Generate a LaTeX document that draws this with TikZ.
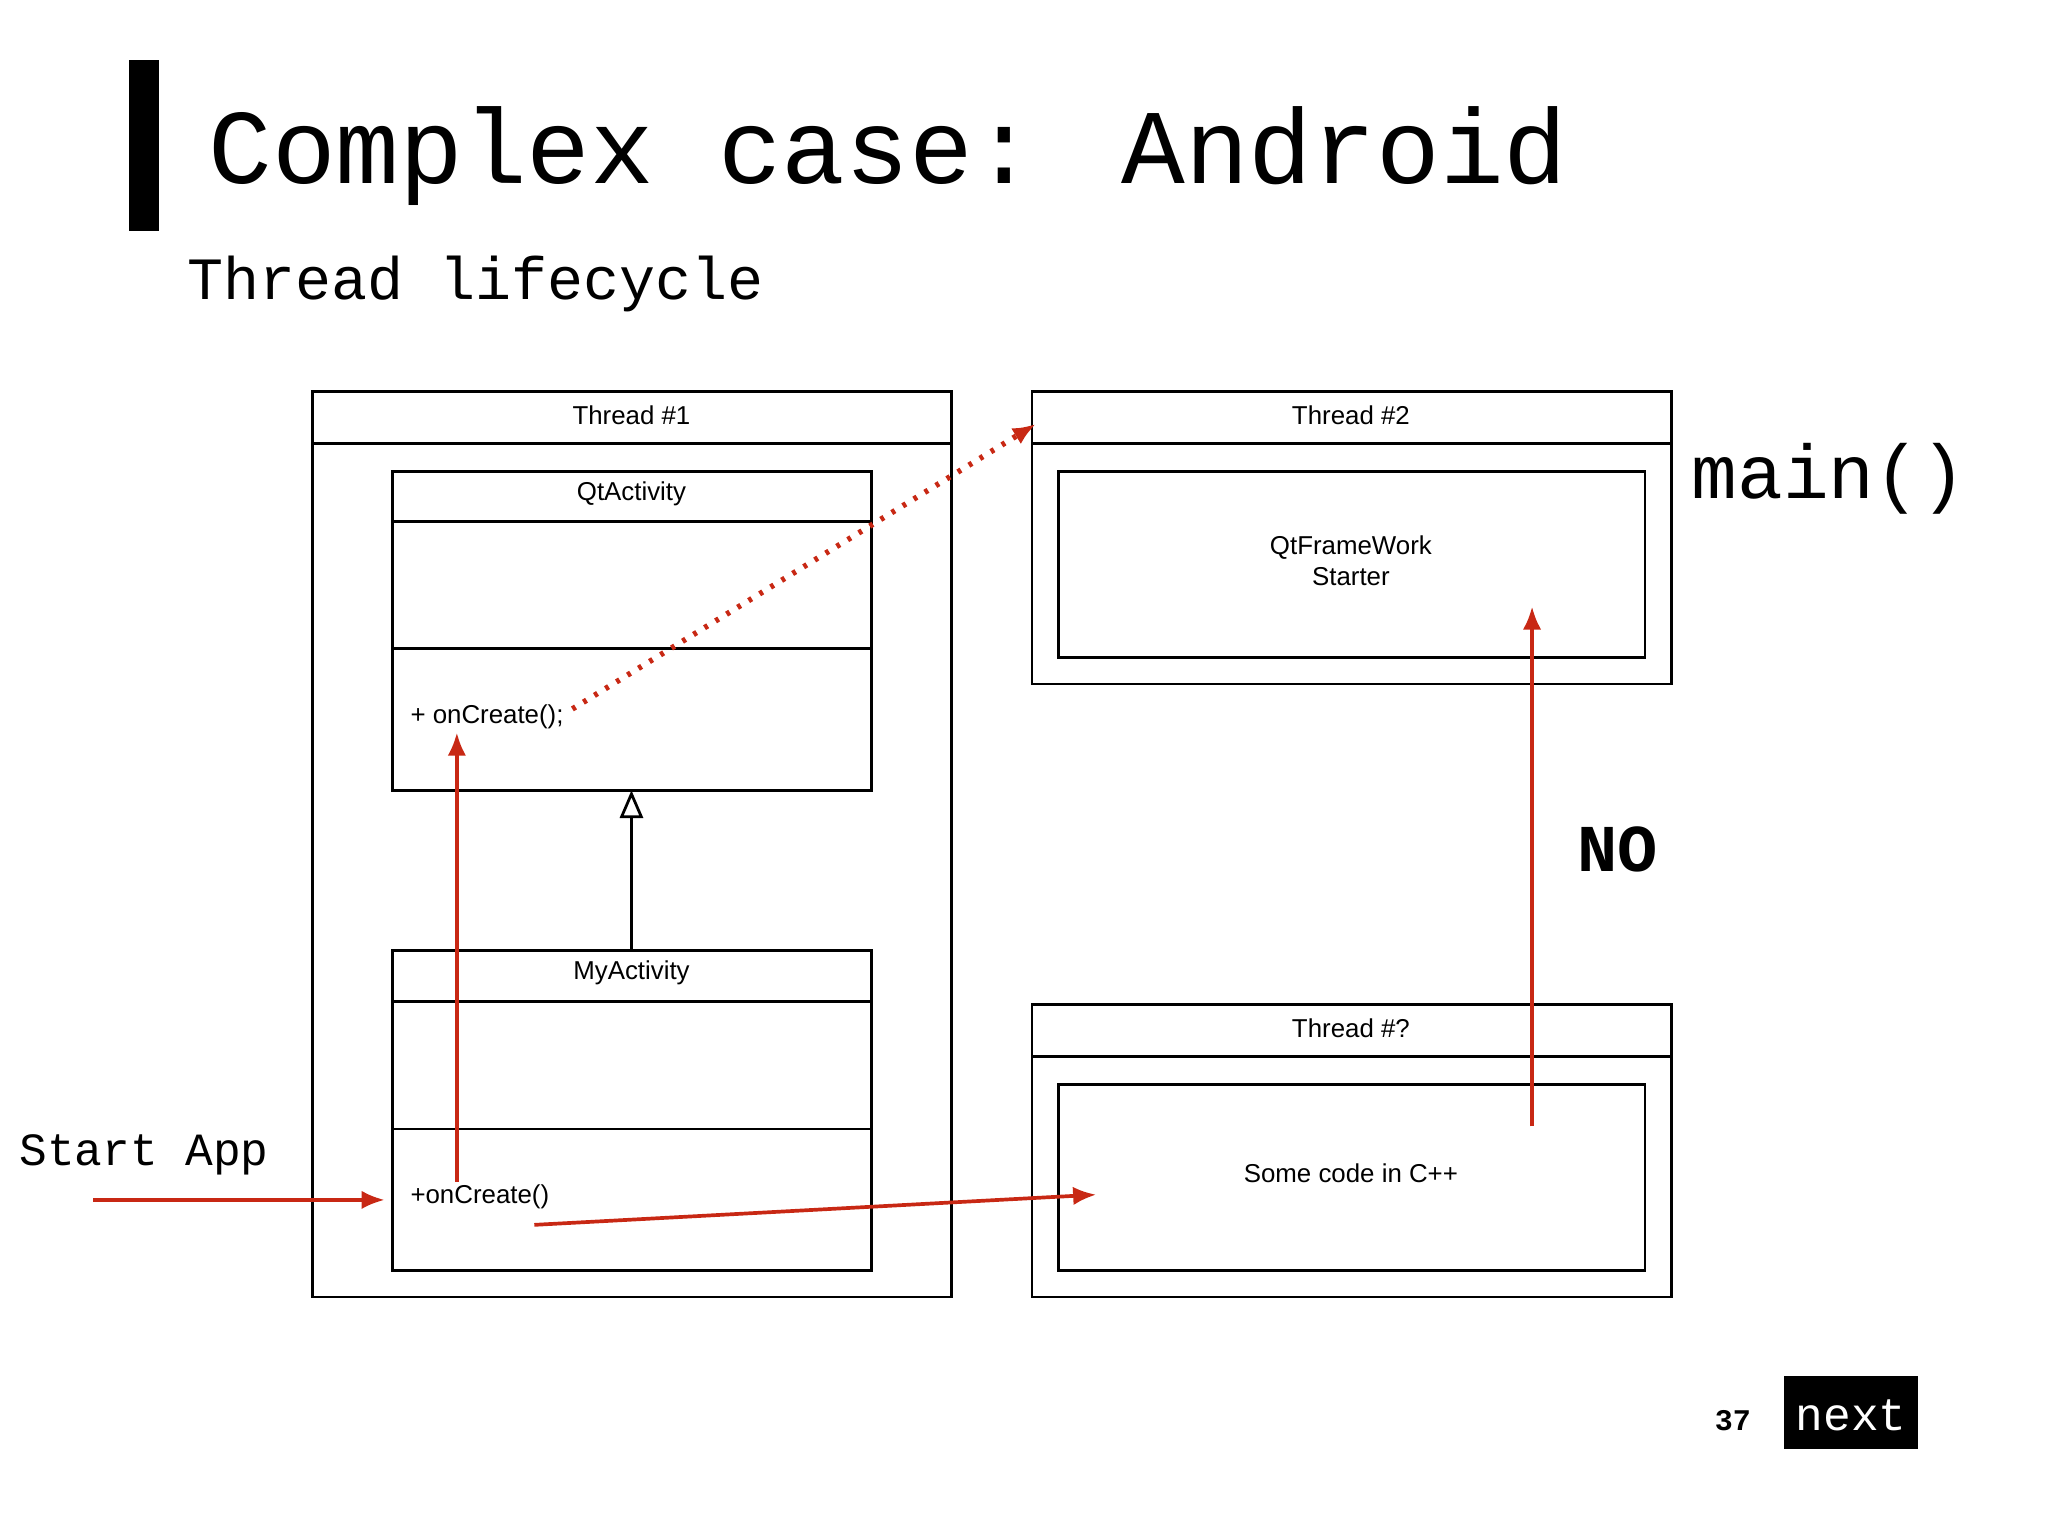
\documentclass[tikz,border=0pt]{standalone}
\usepackage{fontspec}
\setmainfont{Liberation Sans}
\newfontfamily\cour{Liberation Mono}
\usetikzlibrary{arrows.meta}
\begin{document}
\begin{tikzpicture}[x=0.01cm,y=-0.01cm,
  box/.style={draw,line width=0.6pt},
  lbl/.style={font=\fontsize{5.6}{6.8}\selectfont,align=center},
  red/.style={draw={rgb,255:red,200;green,40;blue,20},line width=0.8pt,-{Latex[length=5pt,width=4pt]}},
  ]
\useasboundingbox (0,0) rectangle (1560,1170);
\fill (98,46) rectangle (121,176);
\node[anchor=base west,inner sep=0,font=\cour\fontsize{23}{27}\selectfont] (title) at (158,140) {Complex case: Android};
\node[anchor=base west,inner sep=0,font=\cour\fontsize{13}{15}\selectfont] (sub) at (142,228) {Thread lifecycle};
% Thread 1
\draw[box] (238,298) rectangle (725,988); \draw[box] (238,338) -- (725,338);
\node[lbl] (t1) at (481,316) {Thread \#1};
\draw[box] (299,359) rectangle (664,602); \draw[box] (299,397) -- (664,397); \draw[box] (299,494) -- (664,494);
\node[lbl] (qa) at (481,376) {QtActivity};
\node[lbl,anchor=west,inner sep=0] (oc1) at (312,546) {+ onCreate();};
\draw[box] (299,724) rectangle (664,968); \draw[box] (299,763) -- (664,763); \draw[box] (299,860) -- (664,860);
\node[lbl] (ma) at (481,741) {MyActivity};
\node[lbl,anchor=west,inner sep=0] (oc2) at (312,912) {+onCreate()};
\coordinate (mat) at (481,724); \coordinate (qab) at (481,602);
\draw[line width=0.6pt,-{Triangle[open,length=6pt,width=5pt]}] (mat) -- (qab);
% Thread 2
\draw[box] (786,298) rectangle (1273,521); \draw[box] (786,338) -- (1273,338);
\node[lbl] (t2) at (1029,316) {Thread \#2};
\draw[box] (806,359) rectangle (1253,501);
\node[lbl] (qf) at (1029,427) {QtFrameWork\\Starter};
% Thread ?
\draw[box] (786,765) rectangle (1273,988); \draw[box] (786,805) -- (1273,805);
\node[lbl] (t3) at (1029,783) {Thread \#?};
\draw[box] (806,826) rectangle (1253,968);
\node[lbl] (sc) at (1029,894) {Some code in C++};
% arrows
\coordinate (s0) at (71,914); \coordinate (s1) at (293,914);
\draw[red] (s0) -- (s1);
\coordinate (u0) at (348,900); \coordinate (u1) at (348,558);
\draw[red] (u0) -- (u1);
\coordinate (c0) at (407,933); \coordinate (c1) at (835,910);
\draw[red] (c0) -- (c1);
\coordinate (n0) at (1167,858); \coordinate (n1) at (1167,462);
\draw[red] (n0) -- (n1);
\coordinate (d0) at (436,540); \coordinate (d1) at (789,323);
\draw[red,dotted,line width=1.2pt] (d0) -- (d1);
% labels
\node[anchor=base west,inner sep=0,font=\cour\fontsize{16.5}{20}\selectfont] (mn) at (1288,380) {main()};
\node[inner sep=0,font=\cour\bfseries\fontsize{14.5}{18}\selectfont] (no) at (1232,647) {NO};
\node[anchor=base west,inner sep=0,font=\cour\fontsize{10}{12}\selectfont] (sa) at (14,888) {Start App};
\node[inner sep=0,font=\cour\bfseries\fontsize{6.5}{8}\selectfont] (pg) at (1320,1082) {37};
\fill (1359,1048) rectangle (1461,1104);
\node[text=white,inner sep=0,font=\cour\fontsize{10}{12}\selectfont] (nx) at (1410,1078) {next};
\end{tikzpicture}
\end{document}
